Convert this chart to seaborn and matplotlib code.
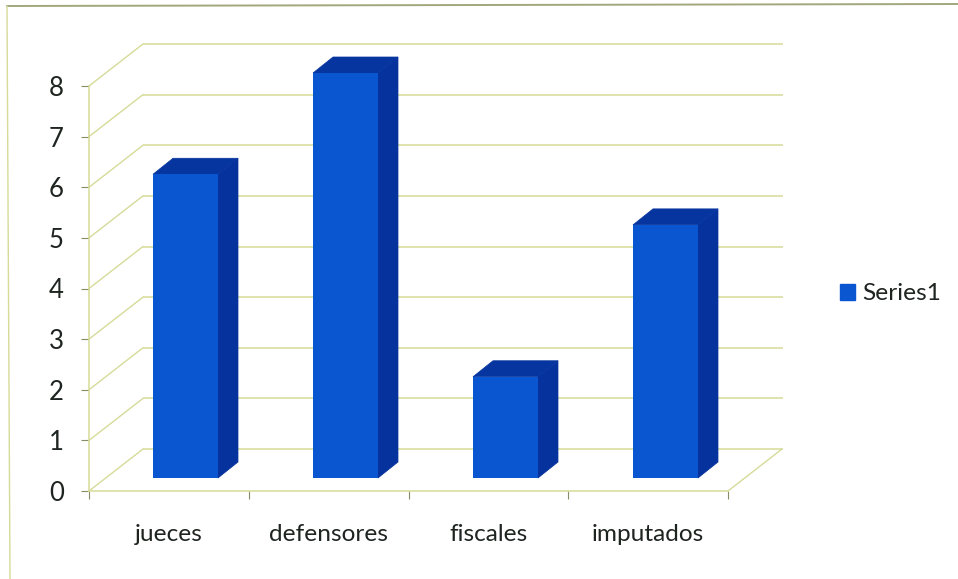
# 3D style column chart drawn on flat seaborn bars
import pandas as pd
import matplotlib
matplotlib.use("Agg")
import matplotlib.pyplot as plt
from matplotlib.lines import Line2D
from matplotlib.patches import Patch, Polygon
import seaborn as sns

categories = ['jueces', 'defensores', 'fiscales', 'imputados']
values = [6, 8, 2, 5]
series_name = 'Series1'
y_ticks = [0, 1, 2, 3, 4, 5, 6, 7, 8]

W, H = 958, 579
front_col = '#0A55D0'
top_col = '#07359F'
side_col = '#05329C'
grid_col = '#D6DB98'
tick_col = '#8A8C66'
text_col = '#1E2420'

sns.set_theme(style='white')
plt.rcParams['font.family'] = ['Lato', 'DejaVu Sans']


def axes_px(fig, left, right, top, bottom):
    # axes position from pixel edges, y counted from the top of the image
    return fig.add_axes([left / W, 1 - bottom / H, (right - left) / W, (bottom - top) / H])


df = pd.DataFrame({'categoria': categories, 'valor': values})
fig = plt.figure(figsize=(W / 100, H / 100), dpi=100, facecolor='white')

# back wall with the grid lines
wall = axes_px(fig, 143, 783, 44, 449)
wall.set_xlim(0, 4)
wall.set_ylim(0, 8)
wall.axis('off')
wall.hlines(y_ticks, 0, 4, color=grid_col, lw=1.1, clip_on=False)

# front plane, holds ticks and labels
front = axes_px(fig, 89, 728, 86, 491)
front.set_xlim(0, 4)
front.set_ylim(0, 8)
front.patch.set_alpha(0)
for s in ['top', 'right']:
    front.spines[s].set_visible(False)
for s in ['left', 'bottom']:
    front.spines[s].set_color(grid_col)
    front.spines[s].set_linewidth(1.1)
front.set_yticks(y_ticks)
front.set_yticklabels(y_ticks, fontsize=18.5, color=text_col)
front.set_xticks([0.5, 1.5, 2.5, 3.5])
front.set_xticklabels(categories, fontsize=17.6, color=text_col)
front.set_xticks([0, 1, 2, 3, 4], minor=True)
front.tick_params(axis='x', which='major', length=0, pad=24)
front.tick_params(axis='x', which='minor', length=6, color=tick_col, width=0.8, bottom=True)
front.tick_params(axis='y', length=6, color=tick_col, width=0.8, pad=12, left=True)

# slanted lines from the front plane to the wall
dx = (143 - 89) / (728 - 89) * 4
dy = (491 - 449) / (491 - 86) * 8
for v in y_ticks:
    front.plot([0, dx], [v, v + dy], color=grid_col, lw=1, clip_on=False)
front.plot([4, 4 + dx], [0, dy], color=grid_col, lw=1, clip_on=False)

# the bars, plane sits a bit behind the front one
ax = axes_px(fig, 105.5, 745.5, 73, 478)
sns.barplot(data=df, x='categoria', y='valor', width=65 / 160, color=front_col,
            saturation=1, linewidth=0, ax=ax, zorder=5)
ax.set_xlim(-0.5, 3.5)
ax.set_ylim(0, 8)
ax.axis('off')
ax.patch.set_alpha(0)

# side and top faces taken from each bar
depth_x = 20 / 160
depth_y = 16 / (405 / 8)
for bar in ax.patches[:len(categories)]:
    x0, x1 = bar.get_x(), bar.get_x() + bar.get_width()
    h = bar.get_height()
    ax.add_patch(Polygon([(x1, 0), (x1 + depth_x, depth_y), (x1 + depth_x, h + depth_y), (x1, h)],
                         fc=side_col, ec=side_col, lw=0.5, clip_on=False, zorder=4))
    ax.add_patch(Polygon([(x0, h), (x0 + depth_x, h + depth_y), (x1 + depth_x, h + depth_y), (x1, h)],
                         fc=top_col, ec=top_col, lw=0.5, clip_on=False, zorder=4))

fig.legend(handles=[Patch(color=front_col, label=series_name)], loc='center left',
           bbox_to_anchor=(818 / W, 1 - 294 / H), frameon=False, fontsize=17.6,
           handlelength=0.62, handleheight=0.62, handletextpad=0.3, labelcolor=text_col)

# outer frame of the scanned chart
fig.add_artist(Line2D([7 / W, 958 / W], [1 - 6 / H, 1 - 4 / H], color='#A3A77C', lw=1.4))
fig.add_artist(Line2D([7 / W, 10 / W], [1 - 6 / H, 0], color='#D6DB98', lw=1))

fig.savefig('out.png', dpi=100)
